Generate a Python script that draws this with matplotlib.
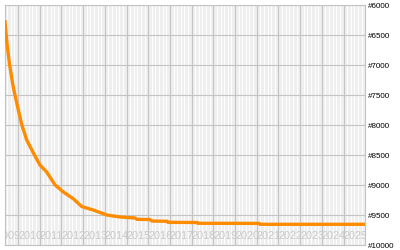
import matplotlib
matplotlib.use("Agg")
import matplotlib.pyplot as plt
import numpy as np
from matplotlib.ticker import FixedLocator

# Data (decimal year, rank)
years = [2009.40, 2009.49, 2009.60, 2009.78, 2009.94, 2010.17, 2010.40, 2010.71,
         2011.01, 2011.32, 2011.71, 2012.09, 2012.55, 2012.94, 2013.47, 2014.09,
         2014.70, 2015.39, 2015.48, 2016.08, 2016.17, 2016.87, 2016.91, 2018.25,
         2018.29, 2021.11, 2021.15, 2025.99]
ranks = [6280, 6633, 6967, 7367, 7633, 7990, 8250, 8467,
         8667, 8783, 9000, 9117, 9230, 9360, 9417, 9500,
         9533, 9550, 9572, 9575, 9600, 9605, 9622, 9625,
         9638, 9640, 9655, 9655]
year_labels = list(range(2009, 2026))
rank_ticks = [6000, 6500, 7000, 7500, 8000, 8500, 9000, 9500, 10000]
rank_labels = ["#%d" % r for r in rank_ticks]

fig = plt.figure(figsize=(4, 2.5), dpi=100)
ax = fig.add_axes([5 / 400, 5 / 250, 360 / 400, 240 / 250])
ax.set_facecolor("#efefef")

ax.set_xlim(2009.40, 2025.99)
ax.set_ylim(10000, 6000)

# minor white stripes (every 2 months)
minor = np.arange(2009.0, 2026.01, 1 / 6)
ax.xaxis.set_minor_locator(FixedLocator(minor))
ax.xaxis.set_major_locator(FixedLocator(year_labels))
ax.grid(which="minor", axis="x", color="white", linewidth=0.7, zorder=0)
ax.grid(which="major", axis="both", color="#c4c4c4", linewidth=0.8, zorder=1)
ax.set_axisbelow(True)

ax.yaxis.set_major_locator(FixedLocator(rank_ticks))
ax.yaxis.tick_right()
ax.set_yticklabels(rank_labels, fontsize=5.8, family="Liberation Sans", color="black")
ax.tick_params(axis="y", length=0, pad=2)
ax.tick_params(axis="x", which="both", length=0, labelbottom=False)

for sp in ax.spines.values():
    sp.set_color("#c4c4c4")
    sp.set_linewidth(0.8)

# year labels inside plot, left-aligned at year line
for y in year_labels:
    ax.text(y, 9900, str(y), ha="left", va="baseline", fontsize=7.8,
            family="Liberation Sans", color="#c8c8c8", clip_on=True, zorder=2)

ax.plot(years, ranks, color="#ff8c00", linewidth=2.4, zorder=3,
        solid_joinstyle="miter")

fig.savefig("out.png", dpi=100)
